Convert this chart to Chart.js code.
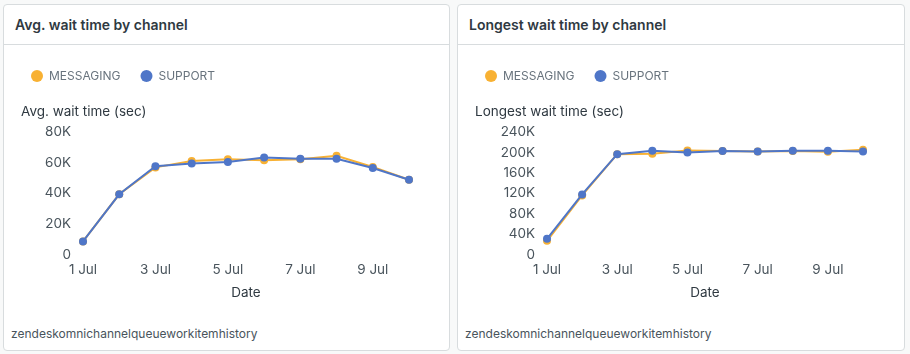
<!DOCTYPE html>
<html>
<head>
<meta charset="utf-8">
<script src="https://cdn.jsdelivr.net/npm/chart.js@4.4.1/dist/chart.umd.min.js"></script>
<style>
  body { margin: 0; background: #f8f9f9; font-family: Inter, "Noto Sans", sans-serif; }
  .card { position: absolute; top: 4px; height: 347px; box-sizing: border-box; background: #fff;
          border: 1px solid #d8dcde; border-radius: 4px; }
  .card h2 { position: absolute; left: 0; right: 0; top: 0; height: 39px; margin: 0; padding-left: 11px;
             border-bottom: 1px solid #d8dcde; font-size: 14px; font-weight: 600; line-height: 39px; color: #2f3941; }
  .card .chart { position: absolute; left: 0; top: 40px; width: 444px; height: 273px; }
  .card .foot { position: absolute; left: 7px; top: 321px; font-size: 12px; line-height: 16px; color: #49545c; }
</style>
</head>
<body>
<div class="card" style="left:3px;width:447px">
  <h2>Avg. wait time by channel</h2>
  <div class="chart"><canvas id="avgChart"></canvas></div>
  <div class="foot">zendeskomnichannelqueueworkitemhistory</div>
</div>
<div class="card" style="left:457px;width:448px">
  <h2>Longest wait time by channel</h2>
  <div class="chart"><canvas id="longestChart"></canvas></div>
  <div class="foot">zendeskomnichannelqueueworkitemhistory</div>
</div>
<script>
// dates on the x axis
const dates = ["1 Jul", "2 Jul", "3 Jul", "4 Jul", "5 Jul", "6 Jul", "7 Jul", "8 Jul", "9 Jul", "10 Jul"];
const seriesNames = ["MESSAGING", "SUPPORT"];

// avg. wait time (sec)
const avgMessaging = [8600, 39400, 57000, 61200, 62300, 61600, 62300, 64600, 57300, 48900];
const avgSupport = [8600, 39400, 57700, 59500, 60500, 63400, 62700, 62700, 56600, 48900];

// longest wait time (sec)
const longMessaging = [27000, 116000, 197000, 197800, 204300, 203000, 202400, 203000, 201700, 205600];
const longSupport = [31000, 118000, 197000, 203700, 200000, 203000, 202400, 203700, 203700, 202400];

const colors = ["#f8b133", "#4f76c8"];

// title plugin is used for the y axis caption, nudge it right a bit
const indentCaption = {
    id: "indentCaption",
    afterLayout(chart) {
        chart.titleBlock.left += 10;
        chart.titleBlock.right += 10;
    }
};

function kLabel(v) {
    return v === 0 ? "0" : (v / 1000) + "K";
}

function createChart(chartId, caption, values, yMax, yStep, axisWidth) {
    const datasets = values.map((dataArr, i) => ({
        label: seriesNames[i],
        data: dataArr,
        borderColor: colors[i],
        backgroundColor: colors[i],
        pointBackgroundColor: colors[i],
        borderWidth: 2,
        pointRadius: 4,
        pointBorderWidth: 0,
        pointHoverRadius: 4,
        tension: 0,
        order: i === 0 ? 1 : 0
    }));

    return new Chart(document.getElementById(chartId), {
        type: "line",
        data: { labels: dates, datasets },
        plugins: [indentCaption],
        options: {
            responsive: true,
            maintainAspectRatio: false,
            animation: false,
            layout: { padding: { top: 5, left: 7, right: 39, bottom: 14 } },
            plugins: {
                legend: {
                    position: "top",
                    align: "start",
                    labels: {
                        usePointStyle: true,
                        pointStyle: "circle",
                        boxWidth: 12,
                        boxHeight: 8.5,
                        padding: 20,
                        color: "#68737d",
                        font: { family: "Inter", size: 12 },
                        sort: (a, b) => a.datasetIndex - b.datasetIndex
                    }
                },
                title: {
                    display: true,
                    text: caption,
                    align: "start",
                    weight: 500,
                    color: "#2f3941",
                    font: { family: "Inter", size: 13.5, weight: "normal" },
                    padding: { top: 12, bottom: 12 }
                },
                tooltip: { enabled: false }
            },
            scales: {
                x: {
                    grid: { display: false, drawTicks: false },
                    border: { display: false },
                    ticks: {
                        autoSkip: false,
                        maxRotation: 0,
                        padding: 7,
                        color: "#49545c",
                        font: { family: "Inter", size: 13.5 },
                        callback: function (v, i) { return i % 2 === 0 ? this.getLabelForValue(v) : ""; }
                    },
                    title: {
                        display: true,
                        text: "Date",
                        color: "#2f3941",
                        font: { family: "Inter", size: 13.5 },
                        padding: { top: 0, bottom: 3 }
                    }
                },
                y: {
                    min: 0,
                    max: yMax,
                    grid: { display: false, drawTicks: false },
                    border: { display: false },
                    afterFit: scale => { scale.width = axisWidth; },
                    ticks: {
                        stepSize: yStep,
                        padding: 12,
                        color: "#49545c",
                        font: { family: "Inter", size: 13.5 },
                        callback: kLabel
                    }
                }
            }
        }
    });
}

createChart("avgChart", "Avg. wait time (sec)", [avgMessaging, avgSupport], 80000, 20000, 72);
createChart("longestChart", "Longest wait time (sec)", [longMessaging, longSupport], 240000, 40000, 82);
</script>
</body>
</html>
